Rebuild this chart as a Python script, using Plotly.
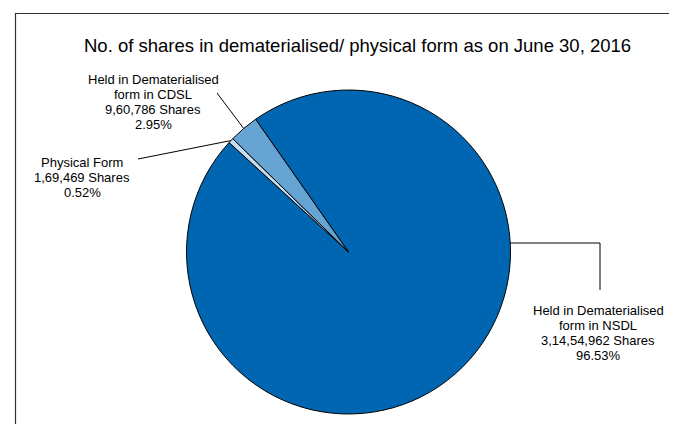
import math
import plotly.graph_objects as go

# Data
categories = ["Held in Dematerialised form in NSDL", "Physical Form", "Held in Dematerialised form in CDSL"]
shares = [31454962, 169469, 960786]
share_text = ["3,14,54,962", "1,69,469", "9,60,786"]
percent_text = ["96.53%", "0.52%", "2.95%"]
label_lines = [["Held in Dematerialised", "form in NSDL"], ["Physical Form"], ["Held in Dematerialised", "form in CDSL"]]
colors = ["#0066B2", "#C4DDF1", "#66A4D3"]
title = "No. of shares in dematerialised/ physical form as on June 30, 2016"

OFF = 8  # page body margin offset
W, H = 677 - 2 * OFF, 432 - 2 * OFF
ROT = -35
# pie geometry (window pixels)
cx, cy, R = 348.5, 252.0, 162.0


def px2paper(x, y):
    return (x - OFF) / W, 1 - (y - OFF) / H


dom_x = [px2paper(cx - R, 0)[0], px2paper(cx + R, 0)[0]]
dom_y = [px2paper(0, cy + R)[1], px2paper(0, cy - R)[1]]

fig = go.Figure(go.Pie(
    labels=categories, values=shares, sort=False, direction="clockwise",
    rotation=ROT, marker=dict(colors=colors, line=dict(color="#000000", width=1)),
    textinfo="none", hoverinfo="label+value+percent", showlegend=False,
    domain=dict(x=dom_x, y=dom_y),
))


def edge_point(angle_deg):
    a = math.radians(angle_deg)
    return cx + R * math.sin(a), cy - R * math.cos(a)


total = sum(shares)
acc = ROT
mids = []
for v in shares:
    span = 360 * v / total
    mids.append(acc + span / 2)
    acc += span


def path_shape(points, color="#000000", width=1):
    d = "M " + " L ".join(f"{px2paper(x, y)[0]},{px2paper(x, y)[1]}" for x, y in points)
    return dict(type="path", xref="paper", yref="paper", path=d, line=dict(color=color, width=width))


shapes = []
# frame (left and top edges; right/bottom lie outside the picture)
shapes.append(path_shape([(15.5, OFF + H), (15.5, 13.5), (OFF + W, 13.5)], color="#333333", width=1.2))
# NSDL leader (elbow)
ny = 243.0
nx = cx + math.sqrt(R * R - (cy - ny) ** 2)
shapes.append(path_shape([(nx, ny), (600, ny), (600, 290)]))
# Physical leader
shapes.append(path_shape([edge_point(mids[1]), (138, 159)]))
# CDSL leader
shapes.append(path_shape([edge_point(mids[2]), (217, 93)]))

label_pos = [(598, 310), (82, 162), (153, 79.5)]  # centre of first line
LINE = 15.0
annotations = []
for i in range(3):
    lines = label_lines[i] + [f"{share_text[i]} Shares", percent_text[i]]
    for j, ln in enumerate(lines):
        x, y = px2paper(label_pos[i][0], label_pos[i][1] + j * LINE)
        annotations.append(dict(text=ln, x=x, y=y, xref="paper", yref="paper", showarrow=False,
                                xanchor="center", yanchor="middle", align="center",
                                font=dict(size=13, color="#000000")))

tx, ty = px2paper(357, 45)
annotations.append(dict(text=title, x=tx, y=ty, xref="paper", yref="paper", showarrow=False,
                        xanchor="center", yanchor="middle", font=dict(size=18.5, color="#000000")))

fig.update_layout(
    width=W, height=H, margin=dict(l=0, r=0, t=0, b=0),
    paper_bgcolor="white", plot_bgcolor="white",
    font=dict(family="Liberation Sans, Arial, sans-serif", color="#000000"),
    shapes=shapes, annotations=annotations,
)

fig.write_html("out.html")
